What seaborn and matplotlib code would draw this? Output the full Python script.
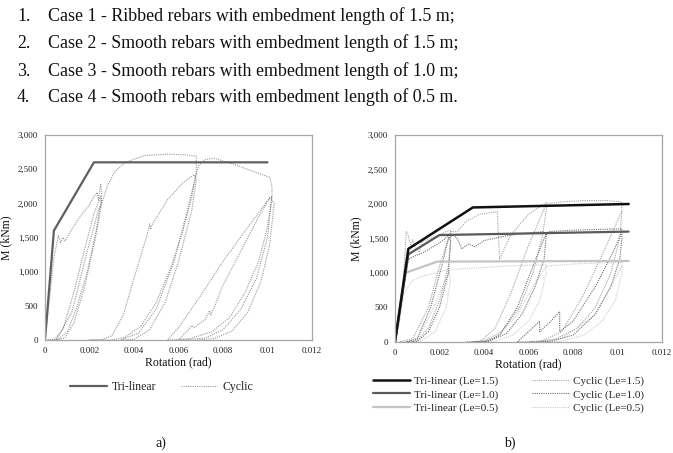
import numpy as np
import pandas as pd
import matplotlib
matplotlib.use("Agg")
import matplotlib.pyplot as plt
from matplotlib.ticker import FuncFormatter
import seaborn as sns

# ---------------- data ----------------
case_numbers = ["1.", "2.", "3.", "4."]
case_texts = [
    "Case 1 - Ribbed rebars with embedment length of 1.5 m;",
    "Case 2 - Smooth rebars with embedment length of 1.5 m;",
    "Case 3 - Smooth rebars with embedment length of 1.0 m;",
    "Case 4 - Smooth rebars with embedment length of 0.5 m.",
]

# (a) tri-linear
a_tri_x = [0, 0.0004, 0.0022, 0.0100]
a_tri_y = [0, 1600, 2600, 2600]

# (a) cyclic path
a_cyc_x = [0, 0.0002, 0.0004, 0.0006, 0.0007, 0.0008, 0.0009, 0.0011, 0.0014, 0.0017, 0.0020, 0.0022,
           0.00235, 0.0024, 0.0025, 0.00255, 0.0025, 0.0023, 0.0019, 0.0014, 0.0010, 0.0006, 0.0003, 0.0001,
           0.0004, 0.0008, 0.0013, 0.0018, 0.0022, 0.0025, 0.00255, 0.0023, 0.0018, 0.0013, 0.0009, 0.0005,
           0.0012, 0.0019, 0.0024, 0.0026, 0.0028, 0.0031, 0.0036, 0.0045, 0.0055, 0.0063, 0.0068, 0.0068,
           0.0066, 0.0062, 0.0057, 0.0050, 0.0043, 0.0036, 0.0030, 0.0020,
           0.0025, 0.0030, 0.0035, 0.0040, 0.0046, 0.0047, 0.00475, 0.0048, 0.0055, 0.0062, 0.0067, 0.0068,
           0.0066, 0.0060, 0.0054, 0.0047, 0.0040, 0.0034,
           0.0042, 0.0050, 0.0058, 0.0064, 0.0067, 0.0069, 0.0072, 0.0076, 0.0085, 0.0095, 0.0101, 0.0102,
           0.0102, 0.0100, 0.0096, 0.0090, 0.0083, 0.0075, 0.0065, 0.0055,
           0.0060, 0.0070, 0.0080, 0.0090, 0.0101, 0.0102,
           0.0100, 0.0095, 0.0088, 0.0080, 0.0072, 0.0062, 0.0060,
           0.0065, 0.0066, 0.0067, 0.0072, 0.0074, 0.00745, 0.0080, 0.0088, 0.0096, 0.0101, 0.0103,
           0.0101, 0.0097, 0.0091, 0.0084, 0.0076, 0.0068]
a_cyc_y = [0, 600, 1200, 1530, 1420, 1500, 1450, 1560, 1720, 1860, 1980, 2100,
           2160, 2050, 2290, 2150, 2000, 1600, 1000, 450, 120, 10, 0, 0,
           0, 150, 700, 1350, 1850, 2100, 2000, 1550, 800, 250, 30, 0,
           400, 1300, 1900, 2050, 2250, 2450, 2600, 2700, 2720, 2710, 2690, 2450,
           2100, 1600, 1100, 550, 200, 40, 0, 0,
           0, 60, 350, 900, 1550, 1700, 1620, 1680, 2050, 2300, 2420, 2350,
           1900, 1150, 550, 150, 10, 0,
           100, 450, 1150, 1900, 2300, 2550, 2640, 2660, 2570, 2450, 2380, 2250,
           2100, 1650, 1150, 700, 330, 120, 20, 0,
           180, 650, 1150, 1600, 2080, 2100,
           1500, 900, 450, 150, 30, 0, 0,
           170, 210, 180, 300, 430, 360, 800, 1300, 1800, 2080, 2000,
           1400, 850, 400, 130, 20, 0]

# (b) tri-linear
b_tri15_x = [0, 0.0006, 0.0035, 0.0105]
b_tri15_y = [0, 1350, 1950, 2000]
b_tri10_x = [0, 0.0006, 0.0020, 0.0105]
b_tri10_y = [0, 1270, 1550, 1600]
b_tri05_x = [0, 0.00045, 0.0019, 0.0105]
b_tri05_y = [0, 1000, 1165, 1175]

# (b) cyclic paths
b_cyc15_x = [0, 0.0002, 0.0004, 0.0005, 0.0006, 0.0007, 0.0008, 0.0009, 0.0011, 0.0012, 0.0016, 0.0020,
             0.0023, 0.0025, 0.0025, 0.0024, 0.0020, 0.0015, 0.0010, 0.0005, 0.0002,
             0.0008, 0.0015, 0.0020, 0.0025, 0.0028, 0.0032, 0.0038, 0.0046, 0.0047, 0.0052, 0.0060,
             0.0066, 0.0068, 0.0068, 0.0066, 0.0062, 0.0056, 0.0048, 0.0040, 0.0032,
             0.0038, 0.0045, 0.0052, 0.0060, 0.0066, 0.0068, 0.0075, 0.0085, 0.0095, 0.0102, 0.0102,
             0.0101, 0.0097, 0.0090, 0.0082, 0.0072, 0.0060,
             0.0065, 0.0075, 0.0085, 0.0095, 0.0102]
b_cyc15_y = [0, 300, 1000, 1600, 1550, 1400, 1480, 1380, 1300, 1450, 1500, 1550,
             1600, 1620, 1500, 1100, 600, 200, 30, 0, 0,
             50, 500, 1100, 1600, 1600, 1750, 1850, 1890, 1200, 1550, 1850,
             1980, 2020, 1900, 1500, 1000, 500, 150, 20, 0,
             0, 200, 700, 1400, 1850, 2000, 2030, 2050, 2050, 2030, 1900,
             1500, 1000, 500, 200, 40, 0,
             0, 150, 700, 1400, 1900]

b_cyc10_x = [0, 0.0003, 0.0006, 0.0009, 0.0013, 0.0018, 0.0022, 0.0024, 0.0025, 0.0024, 0.0020, 0.0015,
             0.0010, 0.0005, 0.0010, 0.0016, 0.0021, 0.0024, 0.0026, 0.0028, 0.0030, 0.0033, 0.0036,
             0.0040, 0.0050, 0.0060, 0.0067, 0.0068, 0.0067, 0.0063, 0.0057, 0.0050, 0.0042, 0.0035,
             0.0040, 0.0047, 0.0055, 0.0062, 0.0067, 0.0069, 0.0080, 0.0090, 0.0102, 0.0102, 0.0101,
             0.0097, 0.0090, 0.0080, 0.0070, 0.0060, 0.0055, 0.0060, 0.0065, 0.0065, 0.0070, 0.0074,
             0.0074, 0.0080, 0.0090, 0.0098, 0.0102]
b_cyc10_y = [0, 600, 1200, 1250, 1300, 1400, 1480, 1550, 1450, 1000, 500, 150,
             10, 0, 50, 500, 1100, 1500, 1550, 1500, 1350, 1420, 1380,
             1470, 1540, 1580, 1600, 1550, 1200, 800, 400, 120, 10, 0,
             0, 100, 500, 1100, 1500, 1600, 1620, 1630, 1640, 1500, 1200,
             800, 400, 100, 10, 0, 0, 150, 300, 150, 300, 440,
             150, 300, 800, 1300, 1600]

b_cyc05_x = [0, 0.0002, 0.0004, 0.0008, 0.0012, 0.0018, 0.0024, 0.0025, 0.0023, 0.0018, 0.0012, 0.0006,
             0.0010, 0.0016, 0.0022, 0.0025, 0.0030, 0.0040, 0.0050, 0.0068, 0.0068, 0.0065, 0.0060,
             0.0053, 0.0045, 0.0038, 0.0045, 0.0055, 0.0063, 0.0068, 0.0085, 0.0102, 0.0102, 0.0099,
             0.0093, 0.0085, 0.0075, 0.0065, 0.0075, 0.0090, 0.0102]
b_cyc05_y = [0, 300, 700, 900, 950, 1000, 1050, 900, 500, 150, 20, 0,
             50, 400, 850, 1050, 1060, 1080, 1100, 1120, 1000, 600, 300,
             100, 10, 0, 50, 400, 850, 1100, 1140, 1150, 1000, 600,
             300, 100, 10, 0, 50, 400, 1100]

x_ticks = [0, 0.002, 0.004, 0.006, 0.008, 0.010, 0.012]
y_ticks = [0, 500, 1000, 1500, 2000, 2500, 3000]

# ---------------- style ----------------
sns.set_theme(style="white")
plt.rcParams["font.family"] = ["Liberation Serif", "DejaVu Serif"]
plt.rcParams["axes.linewidth"] = 0.8

fig = plt.figure(figsize=(6.73, 4.53), dpi=100)
W, H = 673, 453


def add_axes_px(x0, y0, x1, y1):
    return fig.add_axes([x0 / W, 1 - y1 / H, (x1 - x0) / W, (y1 - y0) / H])


def style_axes(ax):
    ax.set_xlim(x_ticks[0], x_ticks[-1])
    ax.set_ylim(y_ticks[0], y_ticks[-1])
    ax.set_xticks(x_ticks)
    ax.set_yticks(y_ticks)
    ax.xaxis.set_major_formatter(FuncFormatter(lambda v, p: f"{v:g}"))
    ax.yaxis.set_major_formatter(FuncFormatter(lambda v, p: f"{v:,.0f}"))
    ax.tick_params(axis="both", which="major", labelsize=6.5, direction="out", length=3,
                   width=0.8, color="#a6a6a6", labelcolor="#222222", pad=2)
    for s in ax.spines.values():
        s.set_color("#a6a6a6")
        s.set_linewidth(0.9)
    ax.set_xlabel("Rotation (rad)", fontsize=8.5, labelpad=1, color="#111111")
    ax.set_ylabel("M (kNm)", fontsize=8.5, labelpad=4, color="#111111")
    ax.set_facecolor("white")


def path_df(xs, ys):
    return pd.DataFrame({"x": xs, "y": ys})


# ---- top text ----
for i, (n, t) in enumerate(zip(case_numbers, case_texts)):
    yb = [15.7, 42.7, 70.0, 97.0][i] + 5.5
    fig.text(17 / W, 1 - yb / H, n, fontsize=12.9, va="baseline", ha="left", color="#111111")
    fig.text(48 / W, 1 - yb / H, t, fontsize=12.9, va="baseline", ha="left", color="#111111")

# ---- (a) ----
axa = add_axes_px(45, 135, 312, 340)
sns.lineplot(data=path_df(a_cyc_x, a_cyc_y), x="x", y="y", sort=False, estimator=None, ax=axa,
             color="#999999", lw=0.8, linestyle=(0, (1, 1)), label="Cyclic")
sns.lineplot(data=path_df(a_tri_x, a_tri_y), x="x", y="y", sort=False, estimator=None, ax=axa,
             color="#5f5f5f", lw=1.6, label="Tri-linear")
style_axes(axa)
ha, la = axa.get_legend_handles_labels()
axa.get_legend().remove()
order_a = [la.index("Tri-linear"), la.index("Cyclic")]
fig.legend([ha[i] for i in order_a], [la[i] for i in order_a], loc="center",
           bbox_to_anchor=(161.5 / W, 1 - 387 / H), ncol=2, frameon=False, fontsize=8.5,
           handlelength=3.1, handletextpad=0.4, columnspacing=2.1, borderpad=0)

# ---- (b) ----
axb = add_axes_px(395, 135, 662, 342)
sns.lineplot(data=path_df(b_cyc05_x, b_cyc05_y), x="x", y="y", sort=False, estimator=None, ax=axb,
             color="#cccccc", lw=0.8, linestyle=(0, (1, 1)), label="Cyclic (Le=0.5)")
sns.lineplot(data=path_df(b_cyc15_x, b_cyc15_y), x="x", y="y", sort=False, estimator=None, ax=axb,
             color="#a4a4a4", lw=0.8, linestyle=(0, (1, 1)), label="Cyclic (Le=1.5)")
sns.lineplot(data=path_df(b_cyc10_x, b_cyc10_y), x="x", y="y", sort=False, estimator=None, ax=axb,
             color="#6e6e6e", lw=0.8, linestyle=(0, (1, 1)), label="Cyclic (Le=1.0)")
sns.lineplot(data=path_df(b_tri05_x, b_tri05_y), x="x", y="y", sort=False, estimator=None, ax=axb,
             color="#c4c4c4", lw=1.6, label="Tri-linear (Le=0.5)")
sns.lineplot(data=path_df(b_tri10_x, b_tri10_y), x="x", y="y", sort=False, estimator=None, ax=axb,
             color="#5a5a5a", lw=1.6, label="Tri-linear (Le=1.0)")
sns.lineplot(data=path_df(b_tri15_x, b_tri15_y), x="x", y="y", sort=False, estimator=None, ax=axb,
             color="#111111", lw=1.8, label="Tri-linear (Le=1.5)")
style_axes(axb)
hb, lb = axb.get_legend_handles_labels()
axb.get_legend().remove()
want = ["Tri-linear (Le=1.5)", "Tri-linear (Le=1.0)", "Tri-linear (Le=0.5)",
        "Cyclic (Le=1.5)", "Cyclic (Le=1.0)", "Cyclic (Le=0.5)"]
idx = [lb.index(w) for w in want]
fig.legend([hb[i] for i in idx], [lb[i] for i in idx], loc="center",
           bbox_to_anchor=(508.5 / W, 1 - 394.5 / H), ncol=2, frameon=False, fontsize=8,
           handlelength=3.4, handletextpad=0.35, columnspacing=3.0, labelspacing=0.3, borderpad=0)

# ---- captions ----
fig.text(161 / W, 1 - 443 / H, "a)", fontsize=10, ha="center", va="center", color="#111111")
fig.text(510 / W, 1 - 443 / H, "b)", fontsize=10, ha="center", va="center", color="#111111")

fig.savefig("out.png", dpi=100, facecolor="white")
